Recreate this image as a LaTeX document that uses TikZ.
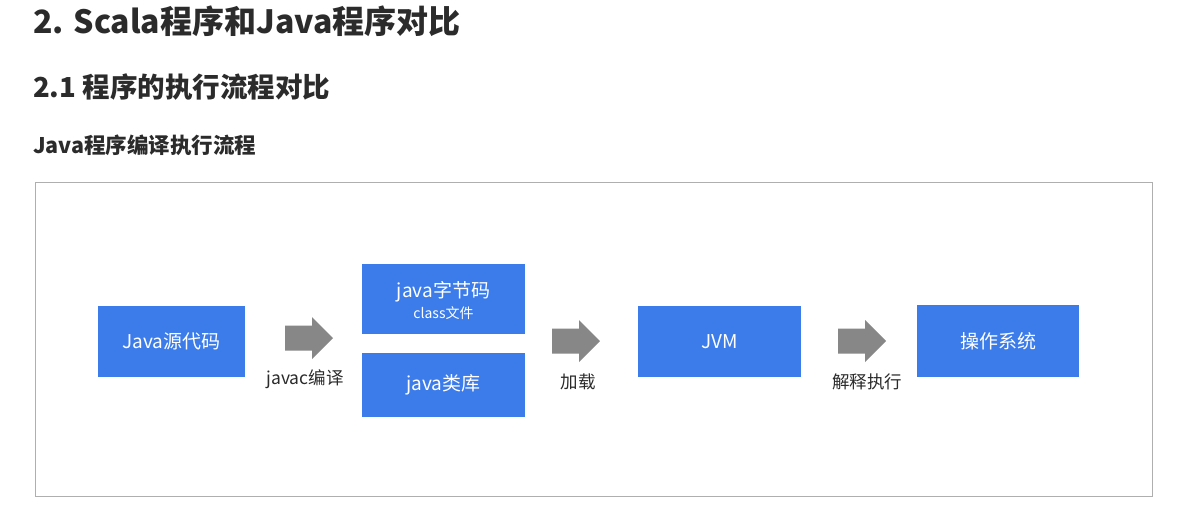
\documentclass[tikz,border=0pt]{standalone}
\usepackage{fontspec}
\setmainfont{Noto Sans CJK SC}
\definecolor{boxblue}{HTML}{3B7BEA}
\definecolor{arrowgray}{HTML}{878787}
\definecolor{framegray}{HTML}{AFAFAF}
\definecolor{textdark}{HTML}{2B2B2B}
\begin{document}
\begin{tikzpicture}[x=1pt,y=-1pt,
  bluebox/.style={fill=boxblue,text=white,inner sep=0pt,font=\fontsize{19}{22}\selectfont,align=center},
  lbl/.style={text=textdark,inner sep=0pt,font=\fontsize{17.5}{20}\selectfont},
  heading/.style={text=textdark,inner sep=0pt,anchor=west},
  blockarrow/.pic={\fill[arrowgray] (0,-12.5) -- (27,-12.5) -- (27,-21) -- (48,0) -- (27,21) -- (27,12.5) -- (0,12.5) -- cycle;}]
\useasboundingbox (0,0) rectangle (1197,512);
\fill[white] (0,0) rectangle (1197,512);
% headings
\node[heading,font=\fontsize{32}{36}\selectfont\bfseries] (t1) at (33,21) {2. Scala程序和Java程序对比};
\node[heading,font=\fontsize{27.5}{31}\selectfont\bfseries] (t2) at (33,87) {2.1 程序的执行流程对比};
\node[heading,font=\fontsize{21.5}{25}\selectfont\bfseries] (t3) at (33,145) {Java程序编译执行流程};
% frame
\draw[framegray,line width=1pt] (35,182) rectangle (1152,496);
% boxes
\node[bluebox,minimum width=147pt,minimum height=71pt] (src) at (171.5,341.5) {Java源代码};
\node[bluebox,minimum width=163pt,minimum height=70pt] (bc) at (443.5,299) {};
\node[text=white,inner sep=0pt,font=\fontsize{19}{22}\selectfont] (bct) at (443.5,292) {java字节码};
\node[text=white,inner sep=0pt,font=\fontsize{14}{16}\selectfont] (bcs) at (443.5,313) {class文件};
\node[bluebox,minimum width=163pt,minimum height=64pt] (lib) at (443.5,385) {java类库};
\node[bluebox,minimum width=163pt,minimum height=71pt] (jvm) at (719.5,341.5) {JVM};
\node[bluebox,minimum width=162pt,minimum height=72pt] (os) at (998,341) {操作系统};
% arrows
\coordinate (a1) at (285,338);
\coordinate (a2) at (552,341);
\coordinate (a3) at (838,341);
\pic at (a1) {blockarrow};
\pic at (a2) {blockarrow};
\pic at (a3) {blockarrow};
% labels
\node[lbl] (l1) at (305,379) {javac编译};
\node[lbl] (l2) at (578,382) {加载};
\node[lbl] (l3) at (867,382) {解释执行};
\end{tikzpicture}
\end{document}
